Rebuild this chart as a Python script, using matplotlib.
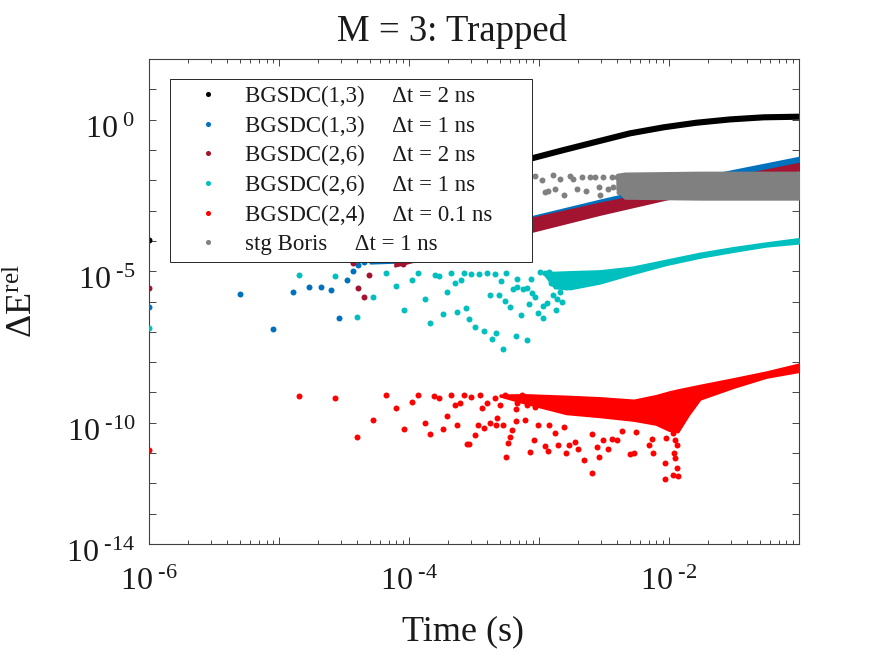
import numpy as np
import matplotlib
matplotlib.use('Agg')
import matplotlib.pyplot as plt
import matplotlib.transforms as mtransforms
from matplotlib.ticker import FixedLocator, LogLocator, NullFormatter

plt.rcParams['font.family'] = ['Liberation Serif', 'DejaVu Serif']
plt.rcParams['mathtext.fontset'] = 'custom'
plt.rcParams['mathtext.rm'] = 'Liberation Serif'
plt.rcParams['mathtext.it'] = 'Liberation Serif:italic'

# values, stored as log10 exponents
# BGSDC(1,3) dt = 2 ns (black)
black_pt_t = [-6.00]
black_pt_E = [-3.97]
black_t = [-3.30, -3.06, -2.81, -2.56, -2.30, -2.04, -1.79, -1.53, -1.27, -1.00]
black_E = [-1.55, -1.28, -1.00, -0.73, -0.45, -0.25, -0.10, 0.01, 0.08, 0.10]

# BGSDC(1,3) dt = 1 ns (blue)
blue_t = [-6.00, -5.30, -5.05, -4.89, -4.77, -4.68, -4.60, -4.54, -4.48, -4.43, -4.39, -4.35]
blue_E = [-6.19, -5.76, -6.91, -5.69, -5.53, -5.53, -5.62, -6.55, -5.29, -5.00, -4.80, -4.70]
blue_band_t = [-4.30, -4.09, -3.07, -2.53, -1.76, -1.00]
blue_band_hi = [-4.53, -4.47, -3.21, -2.65, -1.89, -1.24]
blue_band_lo = [-4.73, -4.70, -3.51, -2.95, -2.19, -1.50]

# BGSDC(2,6) dt = 2 ns (dark red)
dred_t = [-6.00, -4.43, -4.39, -4.35, -4.31, -4.07, -4.05, -3.86]
dred_E = [-5.56, -4.73, -5.56, -5.86, -5.13, -4.67, -4.77, -4.57]
dred_band_t = [-4.11, -3.07, -2.53, -1.76, -1.00]
dred_band_hi = [-4.57, -3.26, -2.75, -2.09, -1.44]
dred_band_lo = [-4.83, -3.70, -3.12, -2.36, -1.66]

# BGSDC(2,6) dt = 1 ns (cyan)
cyan_t = [-6.00, -4.85, -4.57, -4.40, -4.28, -4.18, -4.10, -4.04, -3.98, -3.93,
          -3.88, -3.84, -3.80, -3.77, -3.74, -3.71, -3.68, -3.65, -3.63, -3.60,
          -3.58, -3.56, -3.54, -3.52, -3.49, -3.46, -3.42, -3.40, -3.38, -3.36,
          -3.34, -3.33, -3.31, -3.28, -3.29, -3.26, -3.25, -3.22, -3.20, -3.18,
          -3.17, -3.14, -3.12, -3.09, -3.08, -3.06, -3.03, -3.01, -2.97, -3.17,
          -3.09, -3.05, -2.94, -2.97, -2.89, -2.84, -2.79, -2.74, -2.68, -2.87, -2.92,
          -2.99, -2.95, -2.91, -2.86, -2.82]
cyan_E = [-6.88, -5.11, -5.16, -6.50, -5.86, -5.05, -5.48, -6.28, -5.29, -5.07,
          -5.93, -6.70, -5.11, -5.16, -6.42, -5.68, -5.05, -5.38, -6.34, -5.29,
          -5.05, -6.21, -6.56, -5.10, -6.83, -5.10, -6.98, -5.05, -5.79, -7.25,
          -5.10, -7.05, -5.79, -7.58, -5.33, -5.99, -5.07, -6.18, -5.60, -7.14,
          -5.24, -6.45, -5.60, -7.27, -6.09, -5.27, -5.85, -6.39, -6.15, -5.51,
          -5.56, -5.72, -6.05, -6.55, -5.79, -5.68, -5.51, -5.39, -5.29, -6.28, -5.03,
          -5.03, -5.06, -5.40, -5.92, -6.00]
cyan_band_t = [-2.95, -2.88, -2.76, -2.53, -2.28, -2.02, -1.76, -1.51, -1.25, -1.00]
cyan_band_hi = [-5.03, -5.03, -5.01, -4.98, -4.86, -4.63, -4.40, -4.22, -4.06, -3.92]
cyan_band_lo = [-5.15, -5.55, -5.58, -5.39, -5.08, -4.78, -4.54, -4.35, -4.17, -4.07]

# BGSDC(2,4) dt = 0.1 ns (red)
red_t = [-6.00, -4.85, -4.57, -4.40, -4.28, -4.18, -4.10, -4.04, -3.98, -3.93,
         -3.88, -3.84, -3.81, -3.77, -3.74, -3.71, -3.68, -3.65, -3.63, -3.61,
         -3.58, -3.55, -3.54, -3.52, -3.49, -3.47, -3.45, -3.44, -3.42, -3.40,
         -3.38, -3.34, -3.33, -3.32, -3.30, -3.28, -3.26, -3.25, -3.24, -3.22,
         -3.21, -3.18, -3.18, -3.17, -3.13, -3.11, -3.09, -3.07, -3.04, -3.03,
         -3.01, -2.95, -2.93, -2.92, -2.88, -2.85, -2.81, -2.79, -2.77, -2.72,
         -2.70, -2.65, -2.59, -2.59, -2.55, -2.54, -2.51, -2.47, -2.44, -2.40,
         -2.36, -2.30, -2.27, -2.25, -2.15, -2.12, -2.13, -2.03, -2.03, -2.02,
         -1.97, -1.95, -1.94, -1.96, -1.95, -1.94, -1.97, -1.93]
red_E = [-10.90, -9.12, -9.18, -10.47, -9.91, -9.08, -9.51, -10.19, -9.31, -9.09,
         -10.02, -10.38, -9.12, -9.18, -10.19, -9.77, -9.09, -9.42, -10.06, -9.36,
         -9.09, -10.71, -10.71, -9.15, -10.41, -10.08, -9.09, -9.51, -10.17, -9.34,
         -10.02, -9.17, -10.08, -9.84, -9.42, -10.08, -9.09, -11.13, -10.68, -10.47,
         -10.24, -9.53, -9.94, -9.36, -9.09, -9.91, -9.42, -10.96, -10.57, -9.48,
         -10.08, -10.77, -10.93, -10.08, -10.35, -10.74, -10.14, -11.01, -10.74, -10.63,
         -10.88, -11.23, -11.67, -10.38, -10.80, -11.13, -10.57, -10.85, -10.52, -10.57,
         -10.27, -11.04, -11.01, -10.30, -10.74, -11.01, -10.52, -11.34, -11.84, -10.50,
         -10.35, -10.57, -10.74, -11.01, -11.15, -11.48, -11.73, -11.76]
red_band_t = [-3.30, -3.11, -2.79, -2.53, -2.27, -2.10, -2.00, -1.93, -1.85, -1.76, -1.50, -1.25, -1.00]
red_band_hi = [-9.08, -9.07, -9.12, -9.17, -9.25, -9.10, -8.98, -8.91, -8.84, -8.76, -8.54, -8.32, -8.06]
red_band_lo = [-9.12, -9.35, -9.70, -9.80, -9.92, -10.05, -10.25, -10.30, -9.75, -9.22, -8.83, -8.50, -8.31]

# stg Boris dt = 1 ns (gray)
gray_t = [-3.03, -2.98, -2.89, -2.84, -2.95, -2.93, -2.81, -2.76, -2.74, -2.71, -2.67, -2.64,
          -2.61, -2.57, -2.54, -2.53, -2.51, -2.47, -2.44, -2.43, -2.40, -2.38, -2.88]
gray_E = [-1.86, -1.99, -1.83, -1.97, -2.38, -2.35, -2.49, -1.86, -1.97, -2.30, -1.90, -2.35,
          -1.90, -1.90, -2.23, -2.49, -1.88, -2.30, -1.88, -2.23, -1.90, -2.38, -2.30]
gray_band_t = [-2.40, -2.34, -1.76, -1.00]
gray_band_hi = [-1.80, -1.76, -1.73, -1.73]
gray_band_lo = [-2.30, -2.59, -2.62, -2.62]

labels = ['BGSDC(1,3)     \u0394t = 2 ns',
          'BGSDC(1,3)     \u0394t = 1 ns',
          'BGSDC(2,6)     \u0394t = 2 ns',
          'BGSDC(2,6)     \u0394t = 1 ns',
          'BGSDC(2,4)     \u0394t = 0.1 ns',
          'stg Boris     \u0394t = 1 ns']
colors = ['#000000', '#0072BD', '#A2142F', '#00BFBF', '#FF0000', '#808080']

def p(v):
    return 10.0 ** np.array(v)

def exp_label(e):
    # MATLAB style "10 -5": short hyphen in the exponent
    if e < 0:
        return r'$10^{\ \text{-}%d}$' % (-e)
    return r'$10^{\ %d}$' % e

fig = plt.figure(figsize=(8.75, 6.57), dpi=100)
ax = fig.add_axes([0.1706, 0.172, 0.7422, 0.738])
ax.set_xscale('log')
ax.set_yscale('log')

ms = 4.3
handles = []

# black
h, = ax.plot(p(black_pt_t), p(black_pt_E), 'o', color=colors[0], ms=ms, mew=0, zorder=2)
ax.plot(p(black_t), p(black_E), '-', color=colors[0], lw=4.4, solid_capstyle='round', zorder=2)
handles.append(h)

# blue
ax.fill_between(p(blue_band_t), p(blue_band_lo), p(blue_band_hi), color=colors[1], lw=1.5,
                edgecolor=colors[1], zorder=3)
h, = ax.plot(p(blue_t), p(blue_E), 'o', color=colors[1], ms=ms, mew=0, zorder=3)
handles.append(h)

# dark red
ax.fill_between(p(dred_band_t), p(dred_band_lo), p(dred_band_hi), color=colors[2], lw=1.5,
                edgecolor=colors[2], zorder=4)
h, = ax.plot(p(dred_t), p(dred_E), 'o', color=colors[2], ms=ms, mew=0, zorder=4)
handles.append(h)

# cyan
ax.fill_between(p(cyan_band_t), p(cyan_band_lo), p(cyan_band_hi), color=colors[3], lw=1.5,
                edgecolor=colors[3], zorder=5)
h, = ax.plot(p(cyan_t), p(cyan_E), 'o', color=colors[3], ms=ms, mew=0, zorder=5)
handles.append(h)

# red
ax.fill_between(p(red_band_t), p(red_band_lo), p(red_band_hi), color=colors[4], lw=1.5,
                edgecolor=colors[4], zorder=6)
h, = ax.plot(p(red_t), p(red_E), 'o', color=colors[4], ms=ms, mew=0, zorder=6)
handles.append(h)

# gray
ax.fill_between(p(gray_band_t), p(gray_band_lo), p(gray_band_hi), color=colors[5], lw=1.5,
                edgecolor=colors[5], zorder=7)
h, = ax.plot(p(gray_t), p(gray_E), 'o', color=colors[5], ms=ms, mew=0, zorder=7)
handles.append(h)

ax.set_xlim(1e-6, 1e-1)
ax.set_ylim(1e-14, 1e2)

# ticks
yexp = np.arange(-14, 3)
ax.yaxis.set_major_locator(FixedLocator(10.0 ** yexp))
ax.yaxis.set_minor_locator(FixedLocator([]))
ax.set_yticklabels([exp_label(e) if e in (0, -5, -10, -14) else '' for e in yexp])
xexp = np.arange(-6, 0)
ax.xaxis.set_major_locator(FixedLocator(10.0 ** xexp))
ax.xaxis.set_minor_locator(LogLocator(base=10, subs=np.arange(2, 10), numticks=20))
ax.xaxis.set_minor_formatter(NullFormatter())
ax.set_xticklabels([exp_label(e) if e in (-6, -4, -2) else '' for e in xexp])

ax.tick_params(which='both', direction='in', top=True, right=True, colors='#262626',
               labelcolor='#1a1a1a', width=0.6)
ax.tick_params(which='major', length=5.0)
ax.tick_params(which='minor', length=2.6)
ax.tick_params(axis='x', which='major', labelsize=23, pad=17)
ax.tick_params(axis='y', which='major', labelsize=23, pad=10)
shift = mtransforms.ScaledTranslation(0, -5 / 72, fig.dpi_scale_trans)
for lab in ax.get_yticklabels():
    lab.set_transform(lab.get_transform() + shift)
for s in ax.spines.values():
    s.set_color('#404040')
    s.set_linewidth(0.8)

ax.set_title('M = 3: Trapped', fontsize=26.5, color='#1a1a1a', x=0.466, y=1.02)
ax.set_xlabel('Time (s)', fontsize=26, color='#1a1a1a')
ax.xaxis.set_label_coords(0.483, -0.148)
ax.set_ylabel('\u0394E$^{\\rm rel}$', fontsize=26, color='#1a1a1a')
ax.yaxis.set_label_coords(-0.168, 0.5)

leg = ax.legend(handles, labels, loc='upper left', mode='expand',
                bbox_to_anchor=(0.032, 0.59, 0.557, 0.369), borderaxespad=0,
                fontsize=16.5, handlelength=2.7, handletextpad=0.28, borderpad=0.3,
                labelspacing=0.37, markerscale=0.85, fancybox=False, framealpha=1,
                edgecolor='#262626')
leg.get_frame().set_linewidth(0.7)
leg.set_zorder(20)
for t in leg.get_texts():
    t.set_color('#1a1a1a')

fig.savefig('out.png', dpi=100)
